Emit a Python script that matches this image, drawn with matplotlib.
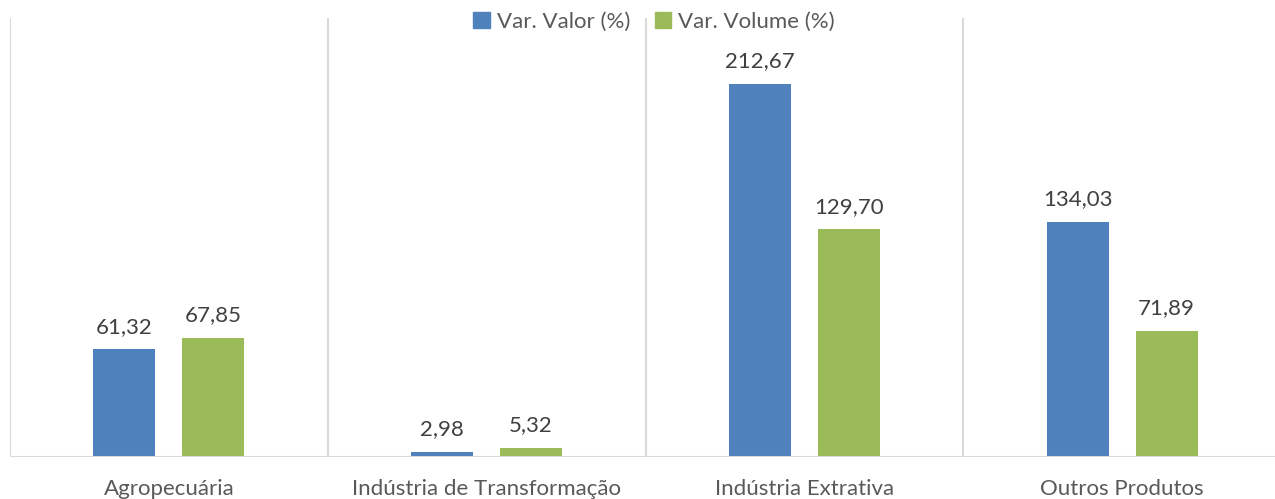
import matplotlib
matplotlib.use("Agg")
import matplotlib.pyplot as plt
from matplotlib.patches import Patch
import numpy as np

categories = ["Agropecuária", "Indústria de Transformação", "Indústria Extrativa", "Outros Produtos"]
valor = [61.32, 2.98, 212.67, 134.03]
volume = [67.85, 5.32, 129.70, 71.89]
series_names = ["Var. Valor (%)", "Var. Volume (%)"]
colors = ["#4F81BD", "#9BBB59"]

plt.rcParams['font.family'] = ['Lato', 'DejaVu Sans']

W, H = 1275, 499
fig = plt.figure(figsize=(W/100, H/100), dpi=100)
left, right, top, bottom = 10, 1281, 18, 457
ax = fig.add_axes([left/W, 1 - bottom/H, (right-left)/W, (bottom-top)/H])

x = np.arange(len(categories))
bw = 0.195
off = 0.14
b1 = ax.bar(x - off, valor, bw, color=colors[0], zorder=3)
b2 = ax.bar(x + off, volume, bw, color=colors[1], zorder=3)

for bars, vals in ((b1, valor), (b2, volume)):
    for r, v in zip(bars, vals):
        ax.text(r.get_x() + r.get_width()/2, v + 7, f"{v:.2f}".replace(".", ","),
                ha="center", va="bottom", fontsize=16, color="#404040")

ax.set_xlim(-0.5, 3.5)
ax.set_ylim(0, 250)
for b in np.arange(-0.5, 4, 1):
    ax.axvline(b, color="#D9D9D9", lw=1.5, zorder=1)
for s in ax.spines.values():
    s.set_visible(False)
ax.axhline(0, color="#D9D9D9", lw=1.5, zorder=4)
ax.set_yticks([])
ax.set_xticks(x)
ax.set_xticklabels(categories, fontsize=16, color="#595959")
ax.tick_params(axis="x", length=0, pad=15.5)

handles = [Patch(color=c) for c in colors]
fig.legend(handles, series_names, loc="center", bbox_to_anchor=(654/W, 1 - 22/H),
           ncol=2, frameon=False, fontsize=16, labelcolor="#595959",
           handlelength=0.75, handleheight=0.75, handletextpad=0.3, columnspacing=1.1)

fig.savefig("out.png", dpi=100, facecolor="white")
